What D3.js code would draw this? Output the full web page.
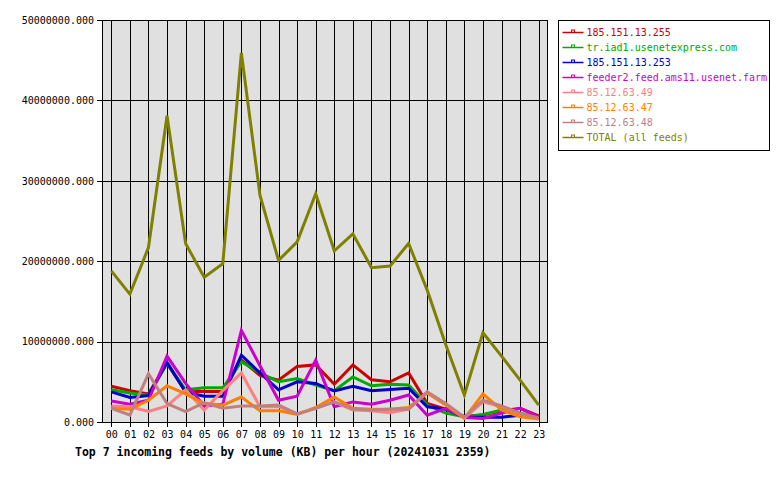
<!DOCTYPE html>
<html>
<head>
<meta charset="utf-8">
<script src="https://cdn.jsdelivr.net/npm/d3@7"></script>
<style>
  body { margin: 0; background: #fff; }
  text { font-family: "DejaVu Sans Mono", monospace; }
</style>
</head>
<body>
<div class="chart"></div>
<script>
// values in millions of KB
var hours = ["00","01","02","03","04","05","06","07","08","09","10","11",
             "12","13","14","15","16","17","18","19","20","21","22","23"];

var feed_255   = [4.45, 3.9, 3.5, 7.3, 3.8, 3.8, 3.8, 7.7, 5.8, 5.2, 6.9, 7.1, 4.7, 7.1, 5.25, 5.0, 6.1, 2.3, 1.6, 0.7, 0.9, 1.4, 1.7, 0.75];
var feed_iad1  = [4.0, 3.6, 3.35, 7.3, 4.0, 4.25, 4.25, 7.5, 6.1, 5.0, 5.4, 4.6, 3.9, 5.6, 4.5, 4.7, 4.6, 2.1, 1.1, 0.65, 0.9, 1.5, 1.1, 0.55];
var feed_253   = [3.75, 3.05, 3.3, 7.4, 3.7, 3.2, 3.2, 8.3, 6.1, 4.0, 5.0, 4.8, 3.85, 4.45, 3.9, 4.05, 4.2, 1.9, 1.6, 0.6, 0.6, 0.6, 0.85, 0.5];
var feed_ams11 = [2.6, 2.2, 2.7, 8.2, 4.8, 2.0, 2.2, 11.4, 7.0, 2.7, 3.2, 7.7, 1.9, 2.5, 2.2, 2.7, 3.35, 0.85, 1.7, 0.55, 0.45, 1.1, 1.7, 0.65];
var feed_49    = [2.0, 1.9, 1.3, 2.0, 4.0, 1.5, 3.9, 6.1, 1.9, 1.9, 1.0, 1.7, 2.5, 1.5, 1.4, 1.15, 1.6, 3.7, 2.2, 0.5, 2.5, 1.9, 1.0, 0.4];
var feed_47    = [1.7, 1.6, 2.7, 4.5, 3.5, 2.3, 2.1, 3.1, 1.4, 1.4, 0.95, 1.8, 3.1, 1.7, 1.6, 1.6, 1.8, 3.6, 2.1, 0.45, 3.5, 1.5, 0.65, 0.37];
var feed_48    = [1.7, 0.87, 6.0, 2.3, 1.3, 2.4, 1.7, 2.0, 2.0, 2.1, 1.0, 1.7, 2.5, 1.6, 1.5, 1.6, 1.6, 3.75, 2.3, 0.6, 2.7, 2.0, 1.1, 0.5];
var feed_total = [18.8, 15.9, 21.7, 38.1, 22.2, 18.0, 19.7, 45.9, 28.2, 20.1, 22.4, 28.4, 21.3, 23.4, 19.2, 19.4, 22.2, 16.4, 9.6, 3.35, 11.1, 8.2, 5.2, 2.1];

var names  = ["185.151.13.255", "tr.iad1.usenetexpress.com", "185.151.13.253",
              "feeder2.feed.ams11.usenet.farm", "85.12.63.49", "85.12.63.47",
              "85.12.63.48", "TOTAL (all feeds)"];
var colors = ["#cc0000", "#00aa00", "#0000cc", "#cc00cc", "#ff8080", "#ff8000", "#c08080", "#808000"];
var yTicks = [0, 10000000, 20000000, 30000000, 40000000, 50000000];

var series = [feed_255, feed_iad1, feed_253, feed_ams11, feed_49, feed_47, feed_48, feed_total];

var width = 780, height = 480;
var plot = {left: 102, right: 548, top: 20, bottom: 422};

var svg = d3.select(".chart")
  .append("svg")
  .attr("width", width)
  .attr("height", height);

var xScale = d3.scalePoint()
  .domain(hours)
  .range([plot.left, plot.right])
  .padding(0.5);

var yScale = d3.scaleLinear()
  .domain([0, 50000000])
  .range([plot.bottom, plot.top]);

// plot background
svg.append("rect")
  .attr("x", plot.left)
  .attr("y", plot.top)
  .attr("width", plot.right - plot.left)
  .attr("height", plot.bottom - plot.top)
  .attr("fill", "#e0e0e0");

// grid
svg.append("g")
  .selectAll("line")
  .data(hours)
  .enter()
  .append("line")
  .attr("x1", function(d) { return Math.round(xScale(d)) + 0.5; })
  .attr("x2", function(d) { return Math.round(xScale(d)) + 0.5; })
  .attr("y1", plot.top)
  .attr("y2", plot.bottom)
  .attr("stroke", "#000")
  .attr("shape-rendering", "crispEdges");

svg.append("g")
  .selectAll("line")
  .data(yTicks)
  .enter()
  .append("line")
  .attr("x1", plot.left)
  .attr("x2", plot.right)
  .attr("y1", function(d) { return Math.round(yScale(d)) + 0.5; })
  .attr("y2", function(d) { return Math.round(yScale(d)) + 0.5; })
  .attr("stroke", "#000")
  .attr("shape-rendering", "crispEdges");

// axes
var yAxis = svg.append("g")
  .attr("transform", "translate(" + plot.left + ",0)")
  .call(d3.axisLeft(yScale)
    .tickValues(yTicks)
    .tickSize(5)
    .tickPadding(3)
    .tickFormat(function(d) { return d3.format(".3f")(d); }));

var xAxis = svg.append("g")
  .attr("transform", "translate(0," + plot.bottom + ")")
  .call(d3.axisBottom(xScale).tickSize(5).tickPadding(4));

[yAxis, xAxis].forEach(function(ax) {
  ax.select(".domain").remove();
  ax.selectAll("line").attr("stroke", "#000").attr("shape-rendering", "crispEdges");
  ax.selectAll("text")
    .attr("fill", "#000")
    .style("font-family", "'DejaVu Sans Mono', monospace")
    .style("font-size", "10px");
});

svg.append("rect")
  .attr("x", plot.left + 0.5)
  .attr("y", plot.top + 0.5)
  .attr("width", plot.right - plot.left - 1)
  .attr("height", plot.bottom - plot.top)
  .attr("fill", "none")
  .attr("stroke", "#000")
  .attr("shape-rendering", "crispEdges");

// lines
var line = d3.line()
  .x(function(d, i) { return xScale(hours[i]); })
  .y(function(d) { return yScale(d * 1000000); });

svg.append("g")
  .selectAll("path")
  .data(series)
  .enter()
  .append("path")
  .attr("d", line)
  .attr("fill", "none")
  .attr("stroke", function(d, i) { return colors[i]; })
  .attr("stroke-width", 3)
  .attr("stroke-linejoin", "miter");

// legend
var legend = svg.append("g")
  .attr("transform", "translate(558.5,20.5)");

legend.append("rect")
  .attr("width", 211)
  .attr("height", 130)
  .attr("fill", "#fff")
  .attr("stroke", "#000");

var items = legend.selectAll("g.item")
  .data(names)
  .enter()
  .append("g")
  .attr("class", "item")
  .attr("transform", function(d, i) { return "translate(0," + (12 + i * 15) + ")"; });

items.append("line")
  .attr("x1", 4)
  .attr("x2", 25)
  .attr("y1", 0)
  .attr("y2", 0)
  .attr("stroke", function(d, i) { return colors[i]; })
  .attr("stroke-width", 1.5);

items.append("rect")
  .attr("x", 13)
  .attr("y", -2.5)
  .attr("width", 3)
  .attr("height", 2.5)
  .attr("fill", "none")
  .attr("stroke", function(d, i) { return colors[i]; })
  .attr("stroke-width", 1);

items.append("text")
  .attr("x", 28)
  .attr("y", 0)
  .attr("dy", "0.35em")
  .attr("fill", function(d, i) { return colors[i]; })
  .style("font-size", "10px")
  .text(function(d) { return d; });

// title
svg.append("text")
  .attr("x", 75)
  .attr("y", 456)
  .style("font-size", "11.5px")
  .style("font-weight", "bold")
  .text("Top 7 incoming feeds by volume (KB) per hour (20241031 2359)");
</script>
</body>
</html>
